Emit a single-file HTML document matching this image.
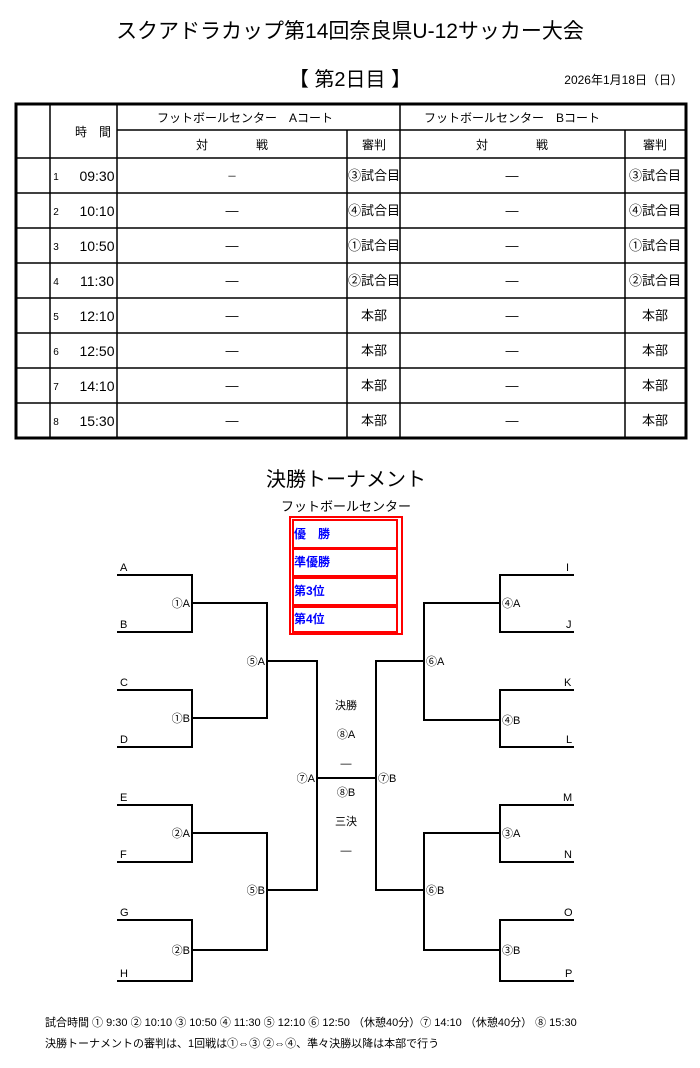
<!DOCTYPE html>
<html><head><meta charset="utf-8"><style>
body{margin:0;background:#fff;width:700px;height:1068px;overflow:hidden;font-family:"Liberation Sans","Noto Sans CJK JP",sans-serif;}
svg{position:absolute;left:0;top:0}
text{font-family:"Liberation Sans","Noto Sans CJK JP",sans-serif;fill:#000}
text.blue{fill:#0000ff}
</style></head><body>
<svg width="700" height="1068" viewBox="0 0 700 1068">
<text x="350" y="38" font-size="21" text-anchor="middle">スクアドラカップ第14回奈良県U-12サッカー大会</text>
<text x="350" y="86" font-size="20" text-anchor="middle">【 第2日目 】</text>
<text x="683" y="84" font-size="12" text-anchor="end">2026年1月18日（日）</text>
<g stroke="#000" fill="none">
<rect x="16" y="104" width="670" height="334" stroke-width="3"/>
<line x1="50" y1="104" x2="50" y2="438" stroke-width="1.5"/>
<line x1="117" y1="104" x2="117" y2="438" stroke-width="1.5"/>
<line x1="400" y1="104" x2="400" y2="438" stroke-width="1.5"/>
<line x1="347" y1="130" x2="347" y2="438" stroke-width="1.5"/>
<line x1="625" y1="130" x2="625" y2="438" stroke-width="1.5"/>
<line x1="117" y1="130" x2="686" y2="130" stroke-width="1.5"/>
<line x1="16" y1="158" x2="686" y2="158" stroke-width="1.5"/>
<line x1="16" y1="193" x2="686" y2="193" stroke-width="1.5"/>
<line x1="16" y1="228" x2="686" y2="228" stroke-width="1.5"/>
<line x1="16" y1="263" x2="686" y2="263" stroke-width="1.5"/>
<line x1="16" y1="298" x2="686" y2="298" stroke-width="1.5"/>
<line x1="16" y1="333" x2="686" y2="333" stroke-width="1.5"/>
<line x1="16" y1="368" x2="686" y2="368" stroke-width="1.5"/>
<line x1="16" y1="403" x2="686" y2="403" stroke-width="1.5"/>
</g>
<g font-size="12" text-anchor="middle">
<text x="93" y="136">時　間</text>
<text x="245" y="122">フットボールセンター　Aコート</text>
<text x="512" y="122">フットボールセンター　Bコート</text>
<text x="232" y="149">対　　　　戦</text>
<text x="374" y="149">審判</text>
<text x="512" y="149">対　　　　戦</text>
<text x="655" y="149">審判</text>
</g>
<g font-size="13" text-anchor="middle">
<text x="232" y="180" font-size="10">－</text>
<text x="374" y="180">③試合目</text><text x="512" y="180">—</text><text x="655" y="180">③試合目</text>
<text x="232" y="215">—</text><text x="374" y="215">④試合目</text><text x="512" y="215">—</text><text x="655" y="215">④試合目</text>
<text x="232" y="250">—</text><text x="374" y="250">①試合目</text><text x="512" y="250">—</text><text x="655" y="250">①試合目</text>
<text x="232" y="285">—</text><text x="374" y="285">②試合目</text><text x="512" y="285">—</text><text x="655" y="285">②試合目</text>
<text x="232" y="320">—</text><text x="374" y="320">本部</text><text x="512" y="320">—</text><text x="655" y="320">本部</text>
<text x="232" y="355">—</text><text x="374" y="355">本部</text><text x="512" y="355">—</text><text x="655" y="355">本部</text>
<text x="232" y="390">—</text><text x="374" y="390">本部</text><text x="512" y="390">—</text><text x="655" y="390">本部</text>
<text x="232" y="425">—</text><text x="374" y="425">本部</text><text x="512" y="425">—</text><text x="655" y="425">本部</text>
</g>
<g font-size="14" text-anchor="middle">
<text x="97" y="181">09:30</text><text x="97" y="216">10:10</text><text x="97" y="251">10:50</text><text x="97" y="286">11:30</text>
<text x="97" y="321">12:10</text><text x="97" y="356">12:50</text><text x="97" y="391">14:10</text><text x="97" y="426">15:30</text>
</g>
<g font-size="10" text-anchor="middle">
<text x="56" y="180">1</text><text x="56" y="215">2</text><text x="56" y="250">3</text><text x="56" y="285">4</text>
<text x="56" y="320">5</text><text x="56" y="355">6</text><text x="56" y="390">7</text><text x="56" y="425">8</text>
</g>
<text x="346" y="486" font-size="20" text-anchor="middle">決勝トーナメント</text>
<text x="346" y="511" font-size="13" text-anchor="middle">フットボールセンター</text>
<g fill="none" stroke="#f00">
<rect x="290" y="517" width="112" height="117" stroke-width="2"/>
<rect x="293" y="520" width="104" height="28" stroke-width="2"/>
<rect x="293" y="549" width="104" height="27" stroke-width="2"/>
<rect x="293" y="578" width="104" height="27" stroke-width="2"/>
<rect x="293" y="607" width="104" height="25" stroke-width="2"/>
</g>
<g font-size="12" font-weight="bold">
<text class="blue" x="294" y="538">優　勝</text>
<text class="blue" x="294" y="566">準優勝</text>
<text class="blue" x="294" y="595">第3位</text>
<text class="blue" x="294" y="623">第4位</text>
</g>
<g stroke="#000" stroke-width="2" fill="none">
<polyline points="117,575 192,575 192,632 117,632"/>
<polyline points="117,690 192,690 192,747 117,747"/>
<polyline points="117,805 192,805 192,862 117,862"/>
<polyline points="117,920 192,920 192,981 117,981"/>
<polyline points="192,603 267,603 267,718 192,718"/>
<polyline points="192,833 267,833 267,950 192,950"/>
<polyline points="267,661 317,661 317,890 267,890"/>
<line x1="317" y1="778" x2="376" y2="778"/>
<polyline points="574,575 500,575 500,632 574,632"/>
<polyline points="574,690 500,690 500,747 574,747"/>
<polyline points="574,805 500,805 500,862 574,862"/>
<polyline points="574,920 500,920 500,981 574,981"/>
<polyline points="500,603 424,603 424,720 500,720"/>
<polyline points="500,833 424,833 424,950 500,950"/>
<polyline points="424,661 376,661 376,890 424,890"/>
</g>
<g font-size="11">
<text x="120" y="571">A</text><text x="120" y="628">B</text><text x="120" y="686">C</text><text x="120" y="743">D</text>
<text x="120" y="801">E</text><text x="120" y="858">F</text><text x="120" y="916">G</text><text x="120" y="977">H</text>
<text x="566" y="571">I</text><text x="566" y="628">J</text><text x="564" y="686">K</text><text x="566" y="743">L</text>
<text x="563" y="801">M</text><text x="564" y="858">N</text><text x="564" y="916">O</text><text x="565" y="977">P</text>
</g>
<g font-size="11">
<text x="190" y="607" text-anchor="end">①A</text><text x="190" y="722" text-anchor="end">①B</text>
<text x="190" y="837" text-anchor="end">②A</text><text x="190" y="954" text-anchor="end">②B</text>
<text x="265" y="665" text-anchor="end">⑤A</text><text x="265" y="894" text-anchor="end">⑤B</text>
<text x="315" y="782" text-anchor="end">⑦A</text>
<text x="502" y="607">④A</text><text x="502" y="724">④B</text>
<text x="502" y="837">③A</text><text x="502" y="954">③B</text>
<text x="426" y="665">⑥A</text><text x="426" y="894">⑥B</text>
<text x="378" y="782">⑦B</text>
</g>
<g font-size="11" text-anchor="middle">
<text x="346" y="709">決勝</text>
<text x="346" y="738">⑧A</text>
<text x="346" y="767">—</text>
<text x="346" y="796">⑧B</text>
<text x="346" y="825">三決</text>
<text x="346" y="854">—</text>
</g>
<text x="45" y="1026" font-size="11">試合時間 ① 9:30 ② 10:10 ③ 10:50 ④ 11:30 ⑤ 12:10 ⑥ 12:50 （休憩40分）⑦ 14:10 （休憩40分） ⑧ 15:30</text>
<text x="45" y="1047" font-size="11">決勝トーナメントの審判は、1回戦は①⇔③  ②⇔④、準々決勝以降は本部で行う</text>
</svg>
</body></html>
